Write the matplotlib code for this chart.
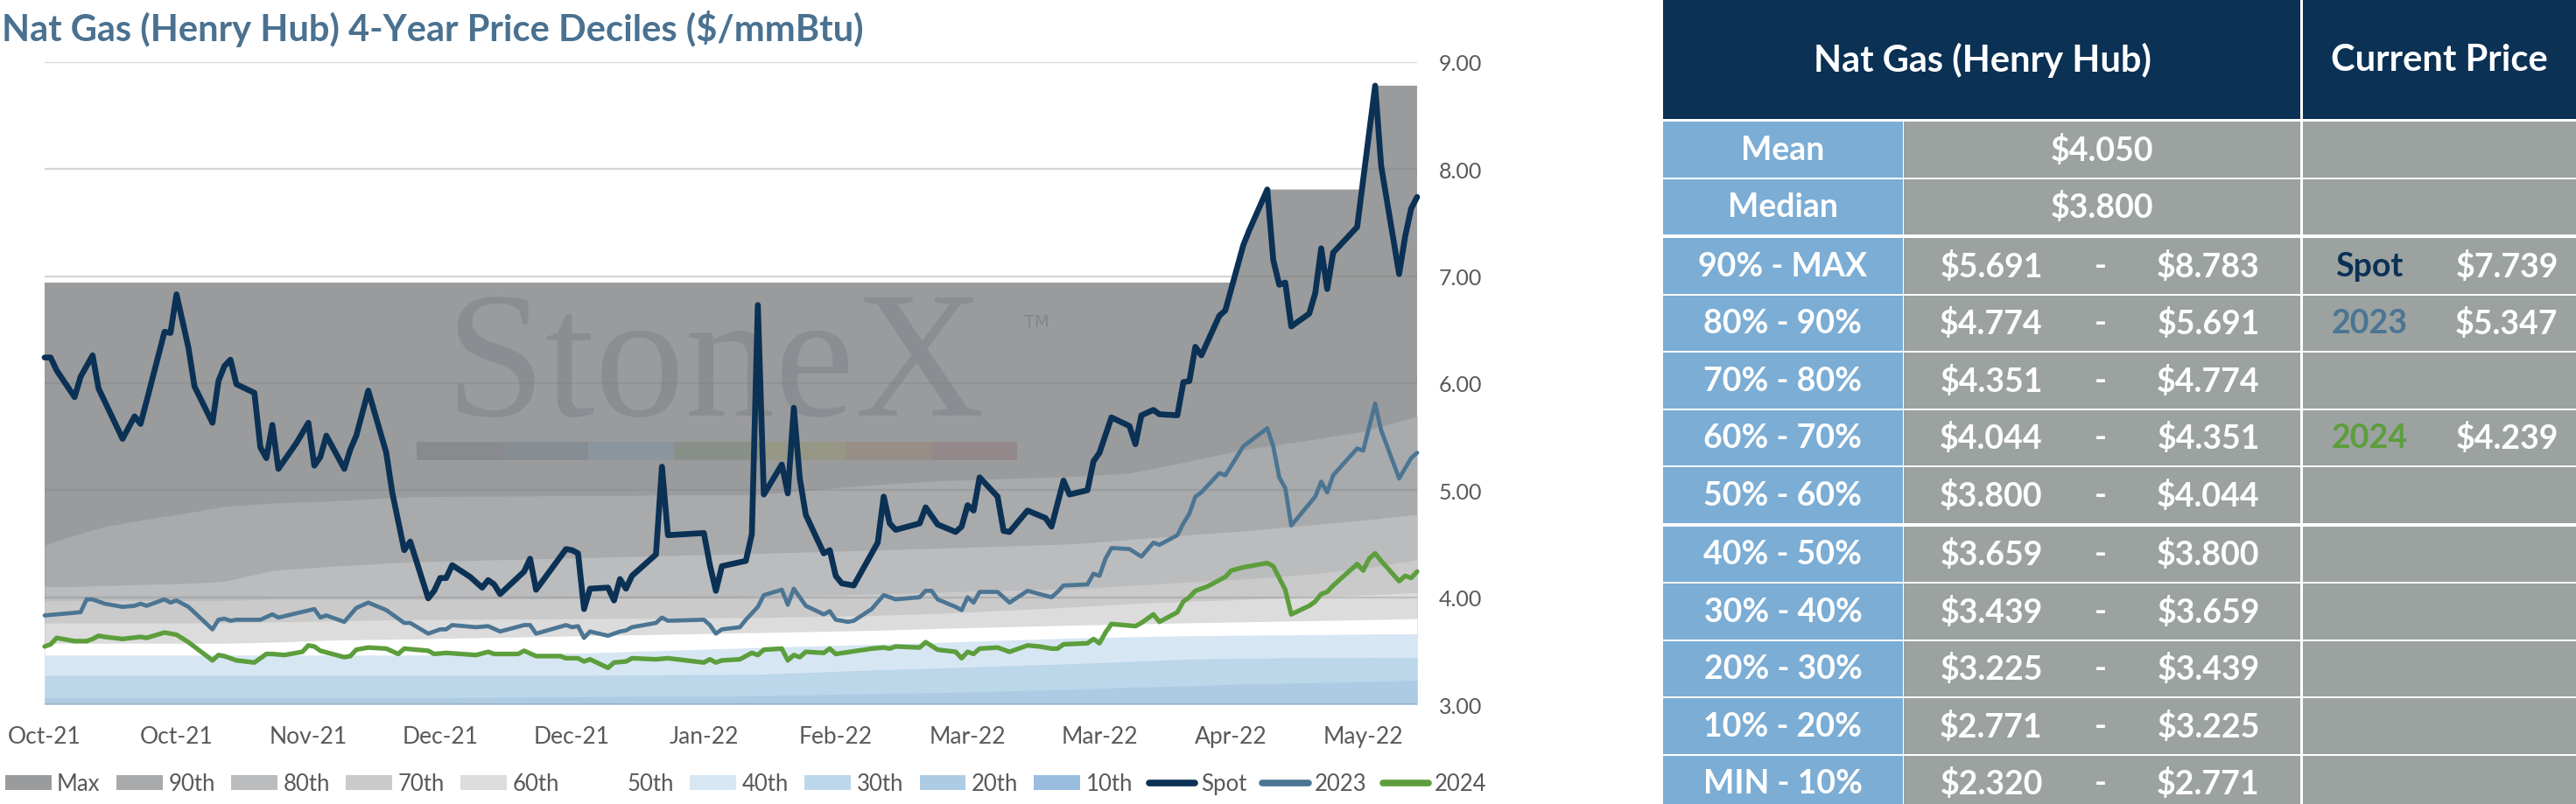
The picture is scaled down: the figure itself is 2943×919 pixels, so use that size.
import numpy as np
import matplotlib
matplotlib.use('Agg')
import matplotlib.pyplot as plt
from matplotlib.patches import Rectangle
from matplotlib.lines import Line2D

plt.rcParams['font.family'] = ['Lato', 'DejaVu Sans']

# ---------------- data ----------------
title = "Nat Gas (Henry Hub) 4-Year Price Deciles ($/mmBtu)"

tick_days = [0, 22, 44, 66, 88, 110, 132, 154, 176, 198, 220]
tick_labels = ['Oct-21', 'Oct-21', 'Nov-21', 'Dec-21', 'Dec-21', 'Jan-22',
               'Feb-22', 'Mar-22', 'Mar-22', 'Apr-22', 'May-22']
y_ticks = [3, 4, 5, 6, 7, 8, 9]

spot_day = [0, 1, 2, 5, 6, 8, 9, 13, 15, 16, 17, 20, 21, 22, 24, 25, 28, 29, 30, 31,
            32, 35, 36, 37, 38, 39, 42, 44, 45, 46, 47, 50, 51, 52, 54, 57, 58, 60, 61, 64,
            65, 66, 67, 68, 71, 73, 74, 75, 76, 80, 81, 82, 87, 88, 89, 90, 91, 94, 95, 96,
            97, 98, 102, 103, 104, 110, 111, 112, 113, 117, 118, 119, 120, 123, 124, 125, 126, 127, 130, 131,
            132, 133, 135, 138, 139, 140, 141, 142, 146, 147, 149, 152, 153, 154, 155, 156, 159, 160, 161, 164,
            167, 168, 170, 171, 174, 175, 176, 178, 181, 182, 183, 185, 186, 189, 190, 191, 192, 193, 196, 197,
            200, 201, 204, 205, 206, 207, 208, 211, 212, 213, 214, 215, 219, 222, 223, 226, 227, 228, 229]
spot_val = [6.24, 6.24, 6.12, 5.87, 6.06, 6.26, 5.95, 5.48, 5.69, 5.62, 5.83, 6.48, 6.47, 6.83, 6.33, 5.97, 5.63, 6.02, 6.16, 6.22,
            5.99, 5.91, 5.40, 5.30, 5.61, 5.20, 5.44, 5.63, 5.23, 5.31, 5.51, 5.20, 5.38, 5.51, 5.93, 5.35, 4.98, 4.44, 4.52, 3.99,
            4.06, 4.18, 4.18, 4.30, 4.19, 4.09, 4.16, 4.12, 4.03, 4.24, 4.36, 4.07, 4.45, 4.44, 4.41, 3.89, 4.08, 4.09, 3.97, 4.17,
            4.08, 4.20, 4.40, 5.22, 4.58, 4.60, 4.30, 4.06, 4.29, 4.34, 4.59, 6.73, 4.96, 5.24, 4.97, 5.77, 5.11, 4.77, 4.41, 4.44,
            4.20, 4.13, 4.11, 4.41, 4.51, 4.94, 4.69, 4.63, 4.69, 4.84, 4.68, 4.61, 4.66, 4.86, 4.81, 5.12, 4.94, 4.62, 4.61, 4.81,
            4.74, 4.66, 5.09, 4.96, 5.00, 5.27, 5.35, 5.68, 5.60, 5.43, 5.70, 5.75, 5.71, 5.70, 6.01, 6.02, 6.34, 6.26, 6.63, 6.68,
            7.29, 7.43, 7.81, 7.15, 6.92, 6.94, 6.53, 6.65, 6.84, 7.26, 6.88, 7.22, 7.46, 8.78, 8.03, 7.02, 7.37, 7.63, 7.74]

y2023_day = [0, 2, 6, 7, 8, 10, 13, 15, 16, 17, 20, 21, 22, 24, 28, 29, 30, 31, 32, 36,
             38, 39, 45, 46, 47, 50, 52, 54, 57, 60, 61, 64, 66, 67, 68, 72, 74, 76, 80, 81,
             82, 87, 88, 89, 90, 91, 94, 96, 97, 98, 102, 103, 104, 110, 111, 112, 113, 116, 117, 119,
             120, 123, 124, 125, 127, 130, 131, 132, 134, 135, 138, 140, 142, 146, 147, 148, 149, 152, 153, 154,
             155, 156, 159, 161, 164, 168, 169, 170, 174, 175, 176, 177, 178, 181, 183, 185, 186, 189, 190, 191,
             192, 193, 196, 197, 200, 204, 205, 206, 207, 208, 212, 213, 214, 215, 219, 220, 222, 223, 226, 228, 229]
y2023_val = [3.83, 3.84, 3.86, 3.98, 3.98, 3.94, 3.91, 3.92, 3.94, 3.92, 3.98, 3.95, 3.97, 3.91, 3.70, 3.79, 3.80, 3.78, 3.79, 3.79,
             3.84, 3.81, 3.89, 3.81, 3.83, 3.77, 3.90, 3.95, 3.88, 3.76, 3.76, 3.66, 3.70, 3.70, 3.74, 3.72, 3.73, 3.68, 3.74, 3.74,
             3.66, 3.74, 3.72, 3.73, 3.62, 3.68, 3.64, 3.68, 3.69, 3.72, 3.76, 3.81, 3.78, 3.79, 3.74, 3.66, 3.70, 3.72, 3.79, 3.91,
             4.02, 4.07, 3.93, 4.08, 3.92, 3.84, 3.87, 3.79, 3.77, 3.78, 3.89, 4.02, 3.98, 4.00, 4.06, 4.06, 3.98, 3.91, 3.88, 4.00,
             3.95, 4.05, 4.05, 3.95, 4.06, 4.00, 4.05, 4.11, 4.12, 4.22, 4.20, 4.36, 4.46, 4.45, 4.38, 4.51, 4.49, 4.58, 4.69, 4.78,
             4.94, 4.98, 5.16, 5.14, 5.41, 5.58, 5.41, 5.12, 5.02, 4.67, 4.94, 5.08, 4.98, 5.14, 5.39, 5.37, 5.81, 5.56, 5.11, 5.30, 5.35]

y2024_day = [0, 1, 2, 5, 7, 8, 9, 10, 13, 16, 17, 20, 22, 24, 28, 29, 30, 32, 35, 37,
             38, 40, 43, 44, 45, 46, 50, 51, 52, 54, 57, 59, 60, 64, 65, 67, 72, 74, 75, 79,
             80, 82, 86, 87, 89, 90, 91, 94, 95, 97, 98, 102, 104, 110, 111, 112, 113, 116, 118, 119,
             120, 123, 124, 125, 126, 127, 130, 131, 132, 138, 140, 141, 142, 146, 147, 149, 152, 153, 154, 155,
             156, 159, 161, 164, 166, 168, 169, 170, 174, 175, 176, 177, 178, 182, 183, 185, 186, 189, 190, 191,
             192, 194, 196, 197, 198, 200, 204, 205, 207, 208, 211, 212, 213, 214, 215, 219, 220, 221, 222, 223,
             226, 227, 228, 229]
y2024_val = [3.54, 3.56, 3.62, 3.59, 3.59, 3.61, 3.64, 3.63, 3.61, 3.63, 3.62, 3.67, 3.65, 3.58, 3.41, 3.46, 3.45, 3.41, 3.39, 3.47,
             3.47, 3.46, 3.49, 3.55, 3.54, 3.50, 3.44, 3.45, 3.51, 3.53, 3.52, 3.47, 3.52, 3.50, 3.47, 3.48, 3.46, 3.49, 3.47, 3.47,
             3.50, 3.45, 3.45, 3.43, 3.43, 3.40, 3.42, 3.34, 3.39, 3.40, 3.43, 3.42, 3.43, 3.39, 3.42, 3.39, 3.41, 3.42, 3.48, 3.46,
             3.51, 3.52, 3.41, 3.46, 3.44, 3.49, 3.48, 3.52, 3.47, 3.52, 3.53, 3.52, 3.54, 3.53, 3.58, 3.51, 3.49, 3.43, 3.49, 3.47,
             3.52, 3.53, 3.49, 3.55, 3.54, 3.52, 3.52, 3.56, 3.57, 3.61, 3.57, 3.67, 3.75, 3.73, 3.76, 3.84, 3.77, 3.86, 3.96, 4.00,
             4.06, 4.10, 4.16, 4.19, 4.25, 4.28, 4.32, 4.29, 4.07, 3.84, 3.92, 3.96, 4.03, 4.05, 4.11, 4.31, 4.25, 4.36, 4.41, 4.34,
             4.15, 4.20, 4.18, 4.24]

max_day = [0, 198, 200, 201, 204, 220, 222, 229]
max_val = [6.94, 6.94, 7.29, 7.43, 7.81, 7.81, 8.78, 8.78]

band_day = [0, 5, 10, 17, 24, 30, 38, 48, 61, 90, 119, 138, 150, 172, 181, 190, 200, 210, 220, 229]
p90 = [4.49, 4.58, 4.66, 4.73, 4.79, 4.85, 4.88, 4.90, 4.94, 4.95, 4.96, 5.05, 5.09, 5.13, 5.16, 5.26, 5.38, 5.46, 5.55, 5.691]
p80 = [4.10, 4.10, 4.11, 4.12, 4.13, 4.15, 4.25, 4.29, 4.33, 4.37, 4.41, 4.44, 4.46, 4.50, 4.54, 4.58, 4.62, 4.67, 4.72, 4.774]
p70 = [3.97, 3.97, 3.97, 3.97, 3.97, 3.97, 3.98, 3.98, 3.98, 3.99, 4.00, 4.03, 4.05, 4.08, 4.11, 4.14, 4.17, 4.21, 4.27, 4.351]
p60 = [3.76, 3.76, 3.76, 3.76, 3.76, 3.76, 3.77, 3.78, 3.79, 3.80, 3.81, 3.83, 3.85, 3.91, 3.94, 3.96, 3.98, 4.00, 4.02, 4.044]
p50 = [3.57, 3.57, 3.57, 3.57, 3.57, 3.57, 3.58, 3.60, 3.61, 3.64, 3.67, 3.69, 3.71, 3.74, 3.75, 3.76, 3.77, 3.78, 3.79, 3.800]
p40 = [3.46, 3.46, 3.46, 3.46, 3.46, 3.46, 3.46, 3.46, 3.46, 3.48, 3.53, 3.56, 3.58, 3.62, 3.63, 3.64, 3.645, 3.65, 3.655, 3.659]
p30 = [3.27, 3.27, 3.27, 3.27, 3.27, 3.27, 3.27, 3.27, 3.27, 3.27, 3.28, 3.32, 3.34, 3.38, 3.40, 3.42, 3.43, 3.435, 3.437, 3.439]
p20 = [3.06, 3.06, 3.06, 3.06, 3.06, 3.06, 3.06, 3.06, 3.06, 3.07, 3.08, 3.10, 3.11, 3.14, 3.16, 3.17, 3.19, 3.20, 3.21, 3.225]
p10 = [2.62, 2.62, 2.63, 2.63, 2.64, 2.64, 2.65, 2.66, 2.67, 2.69, 2.71, 2.72, 2.73, 2.74, 2.75, 2.755, 2.76, 2.765, 2.768, 2.771]

band_labels = ['Max', '90th', '80th', '70th', '60th', '50th', '40th', '30th', '20th', '10th']

# table data
table_title = 'Nat Gas (Henry Hub)'
current_title = 'Current Price'
stat_labels = ['Mean', 'Median']
stat_values = [4.050, 3.800]
range_labels = ['90% - MAX', '80% - 90%', '70% - 80%', '60% - 70%', '50% - 60%',
                '40% - 50%', '30% - 40%', '20% - 30%', '10% - 20%', 'MIN - 10%']
range_low = [5.691, 4.774, 4.351, 4.044, 3.800, 3.659, 3.439, 3.225, 2.771, 2.320]
range_high = [8.783, 5.691, 4.774, 4.351, 4.044, 3.800, 3.659, 3.439, 3.225, 2.771]
current_names = ['Spot', '2023', '2024']
current_values = [7.739, 5.347, 4.239]

# ---------------- styles ----------------
band_colors = ['#9a9b9d', '#a9aaac', '#bbbcbe', '#cacaca', '#dcdcdc', '#ffffff',
               '#d7e6f3', '#bcd6ea', '#aecbe4', '#98bddf']
c_spot, c_2023, c_2024 = '#0b3155', '#4b7593', '#5c9e3c'
tick_color = '#595959'
BOLD = 'bold'

W, H = 2943, 920
fig = plt.figure(figsize=(W / 100, H / 100), dpi=100)

def fx(px):
    return px / W

def fy(py):
    return 1 - py / H

x_left, x_right, y_top, y_bot = 51, 1619, 72, 806
ax = fig.add_axes([fx(x_left), fy(y_bot), fx(x_right) - fx(x_left), fy(y_top) - fy(y_bot)])
ax.set_xlim(0, 229)
ax.set_ylim(3, 9)

# bands
fills = []
fills.append(ax.fill_between(max_day, 0, max_val, color=band_colors[0], lw=0, label=band_labels[0], zorder=1))
for top, col, lab in zip([p90, p80, p70, p60, p50, p40, p30, p20, p10], band_colors[1:], band_labels[1:]):
    fills.append(ax.fill_between(band_day, 0, top, color=col, lw=0, label=lab, zorder=1))

# watermark
wm_color = '#6e7780'
ax.text((817 - x_left) / (x_right - x_left), (y_bot - 475) / (y_bot - y_top), 'StoneX',
        transform=ax.transAxes, ha='center', va='baseline', fontsize=148,
        family='Liberation Serif', color=wm_color, alpha=0.35, zorder=1.5)
ax.text((1170 - x_left) / (x_right - x_left), (y_bot - 374) / (y_bot - y_top), 'TM',
        transform=ax.transAxes, ha='left', va='baseline', fontsize=14,
        family='DejaVu Sans', color=wm_color, alpha=0.55, zorder=1.5)
bar_cols = ['#888a8d', '#868d93', '#8c969f', '#899089', '#979786', '#978f87', '#93888a']
for i, bc in enumerate(bar_cols):
    x0 = 476 + 98 * i
    ax.add_patch(Rectangle(((x0 - x_left) / (x_right - x_left), (y_bot - 527) / (y_bot - y_top)),
                           98 / (x_right - x_left), 21 / (y_bot - y_top),
                           transform=ax.transAxes, color=bc, lw=0, zorder=1.5))

# lines
kw = dict(solid_joinstyle='round', solid_capstyle='round', zorder=4, clip_on=False)
l_spot, = ax.plot(spot_day, spot_val, color=c_spot, lw=4.8, label='Spot', **kw)
l_23, = ax.plot(y2023_day, y2023_val, color=c_2023, lw=3.4, label='2023', **kw)
l_24, = ax.plot(y2024_day, y2024_val, color=c_2024, lw=3.8, label='2024', **kw)

# axes styling
for s in ax.spines.values():
    s.set_visible(False)
ax.set_axisbelow(False)
ax.yaxis.grid(True, color='#7f7f7f', alpha=0.32, lw=1.6, zorder=2)
ax.xaxis.grid(False)
ax.yaxis.tick_right()
ax.set_yticks(y_ticks)
ax.set_yticklabels([f'{v:.2f}' for v in y_ticks])
ax.set_xticks(tick_days)
ax.set_xticklabels(tick_labels)
ax.tick_params(axis='y', length=0, pad=18, labelsize=18, labelcolor=tick_color)
ax.tick_params(axis='x', length=0, pad=17, labelsize=19, labelcolor=tick_color)
for t in ax.get_yticklabels():
    t.set_horizontalalignment('left')

# legend
handles = fills + [l_spot, l_23, l_24]
labels = band_labels + ['Spot', '2023', '2024']
leg = fig.legend(handles, labels, loc='center left', bbox_to_anchor=(fx(6), fy(897)),
                 ncol=13, frameon=False, fontsize=18.5, handlelength=2.05, handleheight=0.62,
                 handletextpad=0.25, columnspacing=0.72, borderpad=0, borderaxespad=0,
                 labelcolor=tick_color)
for lh in leg.get_lines():
    lh.set_linewidth(5.5)

# ---------------- title and table ----------------
tax = fig.add_axes([0, 0, 1, 1], zorder=-1)
tax.set_xlim(0, W)
tax.set_ylim(H, 0)
tax.axis('off')

tax.text(2, 33, title, ha='left', va='center', fontsize=30, color='#4a7190',
         fontweight=BOLD)

navy, light_blue, gray = '#0b3155', '#7badd5', '#9ba2a0'
c0, c1, c2, c3 = 1900, 2174, 2629, 2943
tax.add_patch(Rectangle((c0, 0), c2 - 1 - c0, 137, color=navy, lw=0))
tax.add_patch(Rectangle((c2 + 2, 0), c3 - c2 - 2, 137, color=navy, lw=0))
tkw = dict(ha='center', va='center', color='white', fontweight=BOLD)
tax.text((c0 + c2) / 2, 69, table_title, fontsize=30, **tkw)
tax.text((c2 + 2 + c3) / 2, 69, current_title, fontsize=30, **tkw)

row_labels = stat_labels + range_labels
pitch = 65.5
for i, lab in enumerate(row_labels):
    top = 140 + i * pitch + 2 * (i >= 2) + 2 * (i >= 7)
    h = pitch - 2
    tax.add_patch(Rectangle((c0, top), c1 - c0, h, color=light_blue, lw=0))
    tax.add_patch(Rectangle((c1 + 1, top), c2 - 1 - c1 - 1, h, color=gray, lw=0))
    tax.add_patch(Rectangle((c2 + 2, top), c3 - c2 - 2, h, color=gray, lw=0))
    cy = top + h / 2
    tax.text((c0 + c1) / 2, cy, lab, fontsize=27, **tkw)
    if i < 2:
        tax.text((c1 + c2) / 2, cy, f'${stat_values[i]:.3f}', fontsize=27, **tkw)
    else:
        j = i - 2
        tax.text(2275, cy, f'${range_low[j]:.3f}', fontsize=27, **tkw)
        tax.text(2400, cy, '-', fontsize=27, **tkw)
        tax.text(2523, cy, f'${range_high[j]:.3f}', fontsize=27, **tkw)
        for name, val, col in zip(current_names, current_values, [c_spot, c_2023, c_2024]):
            if range_low[j] <= val < range_high[j] or (j == 0 and val >= range_low[j]):
                tax.text(2707, cy, name, fontsize=27, ha='center', va='center',
                         color=col, fontweight=BOLD)
                tax.text(2864, cy, f'${val:.3f}', fontsize=27, **tkw)

fig.savefig('out.png', dpi=100)
